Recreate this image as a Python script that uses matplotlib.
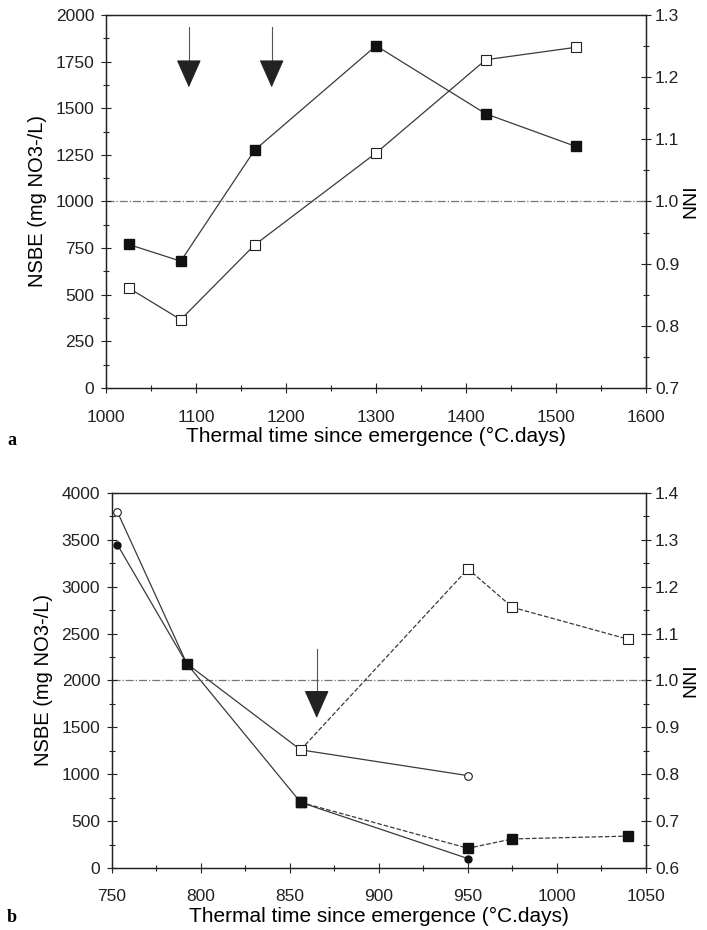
import matplotlib
matplotlib.use("Agg")
import matplotlib.pyplot as plt
from matplotlib.ticker import MultipleLocator, FormatStrFormatter

plt.rcParams['font.family'] = ['Liberation Sans', 'DejaVu Sans']

# panel a
a_time = [1025, 1083, 1165, 1300, 1422, 1522]
a_nsbe = [770, 680, 1275, 1835, 1470, 1295]
a_nni = [0.861, 0.810, 0.930, 1.078, 1.228, 1.248]
a_arrows = [1092, 1184]

# panel b
b_time_solid = [753, 792, 856, 950]
b_nni_solid = [1.360, 1.036, 0.852, 0.797]
b_nsbe_solid = [3450, 2180, 700, 100]
b_time_dash = [856, 950, 975, 1040]
b_nni_dash = [0.852, 1.238, 1.156, 1.088]
b_nsbe_dash = [700, 210, 310, 340]
b_sq_time = [792, 856]
b_sq_nsbe = [2180, 700]
b_arrows = [865]

line_col = '#3a3a3a'
ref_col = '#777777'
serif = ['Liberation Serif', 'DejaVu Serif']


def style_axes(ax, ax2):
    for a in (ax, ax2):
        a.tick_params(which='major', direction='inout', length=7, width=0.8,
                      labelsize=12.5, colors='#222222')
        a.tick_params(which='minor', direction='inout', length=5, width=0.8,
                      colors='#222222')
        for s in a.spines.values():
            s.set_linewidth(0.9)
            s.set_color('#222222')
    ax.tick_params(axis='x', pad=12)
    ax.tick_params(axis='y', pad=5)
    ax2.tick_params(axis='y', pad=3)
    ax2.yaxis.set_major_formatter(FormatStrFormatter('%.1f'))
    # filled series drawn above the open ones
    ax.set_zorder(ax2.get_zorder() + 1)
    ax.patch.set_visible(False)


def arrow(ax, x, top, base, tip):
    ax.plot([x, x], [top, base], color='#555555', lw=0.8)
    ax.annotate('', xy=(x, tip), xytext=(x, base),
                arrowprops=dict(arrowstyle='-|>,head_length=1.8,head_width=0.8',
                                color='#222222', lw=0.8, mutation_scale=10,
                                shrinkA=0, shrinkB=0))


fig = plt.figure(figsize=(7.07, 9.30), dpi=100)

# ---- panel a ----
ax = fig.add_axes([0.150, 0.5828, 0.7638, 0.4011])
ax2 = ax.twinx()
ax.set_xlim(1000, 1600)
ax.set_ylim(0, 2000)
ax2.set_ylim(0.7, 1.3)
ax.xaxis.set_major_locator(MultipleLocator(100))
ax.xaxis.set_minor_locator(MultipleLocator(50))
ax.yaxis.set_major_locator(MultipleLocator(250))
ax.yaxis.set_minor_locator(MultipleLocator(125))
ax2.yaxis.set_major_locator(MultipleLocator(0.1))
ax2.yaxis.set_minor_locator(MultipleLocator(0.05))
style_axes(ax, ax2)

ax2.axhline(1.0, color=ref_col, lw=0.9, ls='-.')
ax.plot(a_time, a_nsbe, color=line_col, lw=0.9, marker='s', ms=6.5,
        mfc='#111111', mec='#111111')
ax2.plot(a_time, a_nni, color=line_col, lw=0.9, marker='s', ms=7,
         mfc='white', mec='#222222', mew=0.8)
for x in a_arrows:
    arrow(ax, x, 1936, 1750, 1612)

ax.set_xlabel('Thermal time since emergence (°C.days)', fontsize=15, labelpad=2)
ax.set_ylabel('NSBE (mg NO3-/L)', fontsize=14.5, labelpad=6)
ax2.set_ylabel('NNI', fontsize=14, labelpad=2)
fig.text(0.010, 1 - 440 / 930, 'a', fontsize=13, family=serif,
         fontweight='bold', va='center')

# ---- panel b ----
bx = fig.add_axes([0.1584, 0.0667, 0.7553, 0.4032])
bx2 = bx.twinx()
bx.set_xlim(750, 1050)
bx.set_ylim(0, 4000)
bx2.set_ylim(0.6, 1.4)
bx.xaxis.set_major_locator(MultipleLocator(50))
bx.xaxis.set_minor_locator(MultipleLocator(25))
bx.yaxis.set_major_locator(MultipleLocator(500))
bx.yaxis.set_minor_locator(MultipleLocator(250))
bx2.yaxis.set_major_locator(MultipleLocator(0.1))
bx2.yaxis.set_minor_locator(MultipleLocator(0.05))
style_axes(bx, bx2)

bx2.axhline(1.0, color=ref_col, lw=0.9, ls='-.')
bx2.plot(b_time_solid, b_nni_solid, color=line_col, lw=0.9, marker='o', ms=5.5,
         mfc='white', mec='#222222', mew=0.8)
bx2.plot(b_time_dash, b_nni_dash, color=line_col, lw=0.9, ls='--', marker='s',
         ms=7, mfc='white', mec='#222222', mew=0.8)
bx.plot(b_time_solid, b_nsbe_solid, color=line_col, lw=0.9, marker='o', ms=5,
        mfc='#111111', mec='#111111')
bx.plot(b_time_dash, b_nsbe_dash, color=line_col, lw=0.9, ls='--', marker='s',
        ms=6.5, mfc='#111111', mec='#111111')
bx.plot(b_sq_time, b_sq_nsbe, ls='none', marker='s', ms=6.5,
        mfc='#111111', mec='#111111')
for x in b_arrows:
    arrow(bx, x, 2336, 1856, 1600)

bx.set_xlabel('Thermal time since emergence (°C.days)', fontsize=15, labelpad=2)
bx.set_ylabel('NSBE (mg NO3-/L)', fontsize=14.5, labelpad=6)
bx2.set_ylabel('NNI', fontsize=14, labelpad=2)
fig.text(0.010, 1 - 917 / 930, 'b', fontsize=13, family=serif,
         fontweight='bold', va='center')

fig.savefig('out.png', dpi=100)
